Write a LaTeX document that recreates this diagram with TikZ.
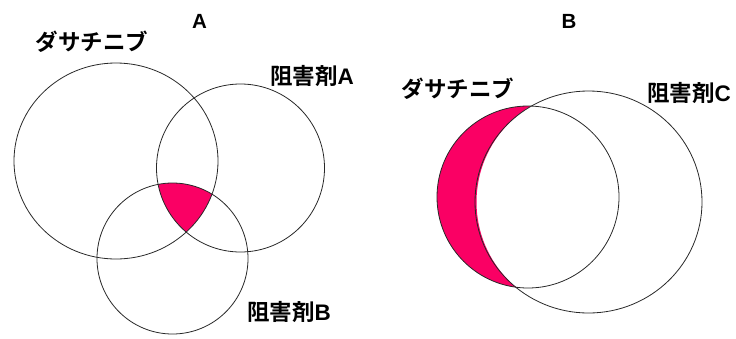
\documentclass[tikz,border=0pt]{standalone}
\usepackage{fontspec}
\newfontfamily\jp{Noto Sans CJK JP}[BoldFont={* Bold}]
\newfontfamily\lat{Liberation Sans}
\definecolor{hotpink}{RGB}{250,0,100}
\definecolor{ring}{RGB}{40,40,40}
\begin{document}
\begin{tikzpicture}[x=1pt,y=-1pt,
  ringline/.style={draw=ring,line width=0.8pt},
  lbl/.style={font=\jp\bfseries\fontsize{22.5}{24}\selectfont,inner sep=0pt,text=black},
  ttl/.style={font=\lat\bfseries\fontsize{20.5}{22}\selectfont,inner sep=0pt,text=black}]
\useasboundingbox (0,0) rectangle (736,338);
% centres
\coordinate (dA) at (116,161);
\coordinate (iA) at (240.5,168);
\coordinate (iB) at (172.5,258.5);
\coordinate (dB) at (528,197);
\coordinate (iC) at (588.5,202);
% panel A highlight
\begin{scope}
  \clip (dA) ellipse [x radius=102, y radius=98];
  \clip (iA) circle [radius=84];
  \fill[hotpink] (iB) circle [radius=75.5];
\end{scope}
% panel B highlight
\begin{scope}
  \clip (dB) circle [radius=91];
  \fill[hotpink, even odd rule] (400,0) rectangle (736,338) (iC) circle [radius=112];
\end{scope}
% circles
\draw[ringline] (dA) ellipse [x radius=102, y radius=98];
\draw[ringline] (iA) circle [radius=84];
\draw[ringline] (iB) circle [radius=75.5];
\draw[ringline] (dB) circle [radius=91];
\draw[ringline] (iC) ellipse [x radius=113.5, y radius=111];
% labels
\node[ttl] (tA) at (199.5,21) {A};
\node[ttl] (tB) at (569,21) {B};
\node[lbl] (ldA) at (92,42) {ダサチニブ};
\node[lbl] (lA) at (312,76) {阻害剤{\lat\bfseries A}};
\node[lbl] (lB) at (289,312) {阻害剤{\lat\bfseries B}};
\node[lbl] (ldB) at (458,89) {ダサチニブ};
\node[lbl] (lC) at (689,93) {阻害剤{\lat\bfseries C}};
\end{tikzpicture}
\end{document}
